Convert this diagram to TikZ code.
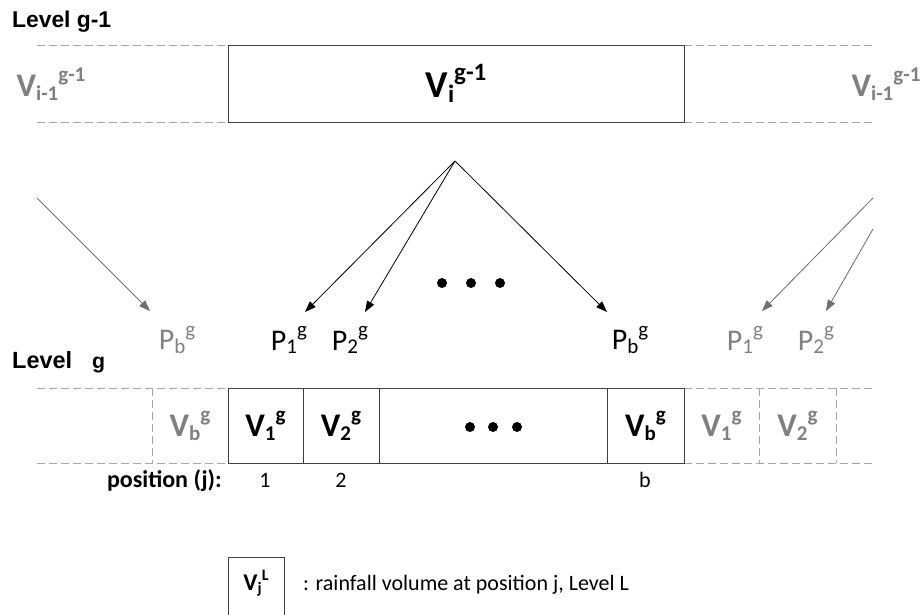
\documentclass[tikz,border=0pt]{standalone}
\usepackage{fontspec}
\setmainfont{Carlito}
\newfontfamily\levelfont{Liberation Sans}
\usetikzlibrary{arrows.meta}
\definecolor{txtgray}{HTML}{808080}
\definecolor{dashgray}{HTML}{A6A6A6}
\definecolor{boxline}{HTML}{404040}
\definecolor{arrgray}{HTML}{707070}
% main letter, subscript, superscript
\newcommand{\lab}[4][21]{#2\raisebox{-0.12em}{\fontsize{#1}{#1}\selectfont #3}\raisebox{0.45em}{\fontsize{#1}{#1}\selectfont #4}}
\begin{document}
\begin{tikzpicture}[x=1pt,y=-1pt,
  dashln/.style={draw=dashgray, line width=1pt, dash pattern=on 8pt off 4pt},
  solidbox/.style={draw=boxline, line width=1pt},
  cellbox/.style={solidbox, minimum height=75pt, inner sep=0pt, font=\bfseries\fontsize{33}{36}\selectfont},
  blackarr/.style={-{Triangle[length=11pt,width=8pt]}, line width=0.8pt, draw=black},
  grayarr/.style={-{Triangle[length=11pt,width=8pt]}, line width=0.8pt, draw=arrgray, fill=arrgray},
  lvl/.style={font=\levelfont\bfseries\fontsize{23}{26}\selectfont, anchor=base west, inner sep=0pt},
  vlab/.style={font=\bfseries\fontsize{33}{36}\selectfont, inner sep=0pt},
  vbig/.style={font=\bfseries\fontsize{38}{42}\selectfont, inner sep=0pt},
  plab/.style={font=\fontsize{30}{34}\selectfont, inner sep=0pt},
  dotn/.style={circle, fill=black, minimum size=10pt, inner sep=0pt},
  poslab/.style={font=\bfseries\fontsize{24}{28}\selectfont, inner sep=0pt, anchor=base east},
  posnum/.style={font=\fontsize{22}{26}\selectfont, inner sep=0pt, anchor=base},
  legtext/.style={font=\fontsize{22}{26}\selectfont, inner sep=0pt, anchor=base west}
]
\useasboundingbox (0,0) rectangle (920,614);

% ---------- Level g-1 ----------
\node[lvl] (lvltop) at (12,27) {\resizebox{99pt}{!}{Level g-1}};
\draw[dashln] (37,45) -- (228,45);
\draw[dashln] (37,122) -- (228,122);
\draw[dashln] (684,45) -- (875,45);
\draw[dashln] (684,122) -- (875,122);
\node[solidbox, minimum width=456pt, minimum height=77pt, inner sep=0pt, vbig] (topbox) at (456,83.5) {\lab[25]{V}{i}{g-1}};
\node[vlab, text=txtgray] (vleft) at (51,84) {\lab{V}{i-1}{g-1}};
\node[vlab, text=txtgray] (vright) at (886,84) {\lab{V}{i-1}{g-1}};

% ---------- arrows ----------
\coordinate (src) at (455,161);
\coordinate (srcL) at (37,198);
\coordinate (srcR1) at (873,198);
\coordinate (srcR2) at (873,229);
\coordinate (tipPbL) at (150,311);
\coordinate (tipP1) at (305,312);
\coordinate (tipP2) at (365,312);
\coordinate (tipPb) at (607,312);
\coordinate (tipP1R) at (762,311);
\coordinate (tipP2R) at (826,311);
\draw[blackarr] (src) -- (tipP1);
\draw[blackarr] (src) -- (tipP2);
\draw[blackarr] (src) -- (tipPb);
\draw[grayarr] (srcL) -- (tipPbL);
\draw[grayarr] (srcR1) -- (tipP1R);
\draw[grayarr] (srcR2) -- (tipP2R);
\node[dotn] (d1) at (442,283) {};
\node[dotn] (d2) at (471,283) {};
\node[dotn] (d3) at (500,283) {};

% ---------- P labels ----------
\node[plab, text=txtgray] (PbL) at (177,340) {\lab{P}{b}{g}};
\node[plab] (P1) at (289,340) {\lab{P}{1}{g}};
\node[plab] (P2) at (350,340) {\lab{P}{2}{g}};
\node[plab] (Pb) at (630,340) {\lab{P}{b}{g}};
\node[plab, text=txtgray] (P1R) at (745,340) {\lab{P}{1}{g}};
\node[plab, text=txtgray] (P2R) at (816,340) {\lab{P}{2}{g}};

% ---------- Level g ----------
\node[lvl] (lvlg) at (12,368) {\resizebox{60pt}{!}{Level}\hspace{20pt}\resizebox{13pt}{!}{g}};
\draw[dashln] (37,388) -- (228,388);
\draw[dashln] (37,463) -- (228,463);
\draw[dashln] (684,388) -- (873,388);
\draw[dashln] (684,463) -- (873,463);
\draw[dashln] (152,388) -- (152,463);
\draw[dashln] (759,388) -- (759,463);
\draw[dashln] (836,388) -- (836,463);
\node[cellbox, minimum width=75pt] (c1) at (265.5,425.5) {\lab{V}{1}{g}};
\node[cellbox, minimum width=76pt] (c2) at (341,425.5) {\lab{V}{2}{g}};
\node[cellbox, minimum width=228pt] (cdots) at (493,425.5) {};
\node[cellbox, minimum width=77pt] (cb) at (645.5,425.5) {\lab{V}{b}{g}};
\node[dotn] (e1) at (470,427) {};
\node[dotn] (e2) at (493,427) {};
\node[dotn] (e3) at (517,427) {};
\node[vlab, text=txtgray] (vbL) at (190,425.5) {\lab{V}{b}{g}};
\node[vlab, text=txtgray] (v1R) at (721.5,425.5) {\lab{V}{1}{g}};
\node[vlab, text=txtgray] (v2R) at (797.5,425.5) {\lab{V}{2}{g}};

% ---------- positions ----------
\node[poslab] (pos) at (222,487) {position (j):};
\node[posnum] (n1) at (265,487) {1};
\node[posnum] (n2) at (341,487) {2};
\node[posnum] (nb) at (645,487) {b};

% ---------- legend ----------
\draw[solidbox] (228,618) -- (228,557) -- (284,557) -- (284,618);
\node[font=\bfseries\fontsize{24}{26}\selectfont, inner sep=0pt] (legv) at (256,583) {\lab[16]{V}{j}{L}};
\node[legtext] (leg) at (303,590) {: rainfall volume at position j, Level L};
\end{tikzpicture}
\end{document}
